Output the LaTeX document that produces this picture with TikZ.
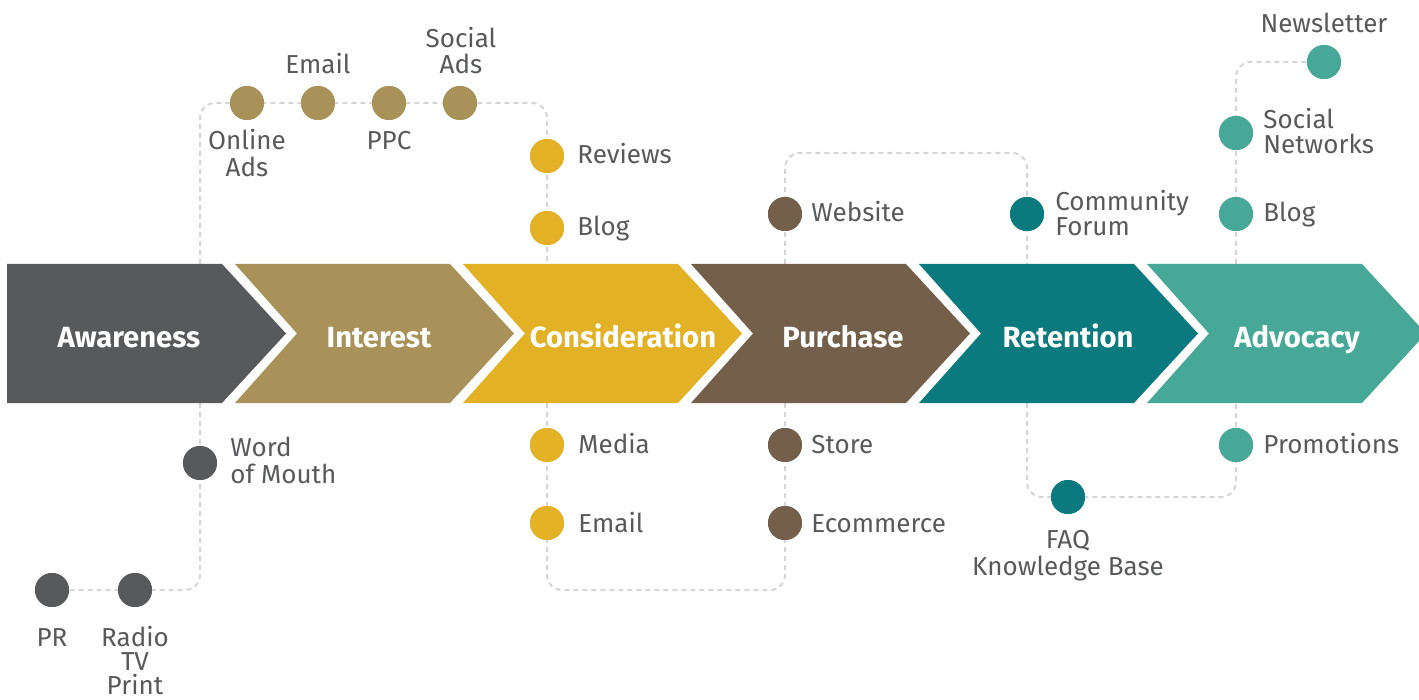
\documentclass[tikz,border=0pt]{standalone}
\usepackage{fontspec}
\setmainfont{Fira Sans}
\definecolor{awc}{HTML}{58595B}
\definecolor{inc}{HTML}{A89259}
\definecolor{coc}{HTML}{E3B125}
\definecolor{puc}{HTML}{745F4B}
\definecolor{rec}{HTML}{0B7A7E}
\definecolor{adc}{HTML}{47A898}
\definecolor{linegray}{HTML}{D4D5D6}
\definecolor{labelgray}{HTML}{58595B}
% one stage arrow, left edge at x = #1
\newcommand\chevpath[1]{(#1,264) -- ++(215,0) -- ++(64,69.5) -- ++(-64,69.5) -- ++(-215,0) -- ++(62,-69.5) -- cycle}
\begin{document}
\begin{tikzpicture}[x=0.5pt,y=-0.5pt,
  dot/.style={circle, minimum size=17pt, inner sep=0pt, fill=#1},
  link/.style={draw=linegray, line width=1pt, dash pattern=on 2.5pt off 2pt, rounded corners=7.5pt},
  lbl/.style={inner sep=0pt, text=labelgray, font=\fontsize{13}{15}\selectfont},
  stagetxt/.style={inner sep=0pt, text=white, font=\fontsize{14.6}{17}\selectfont\bfseries, anchor=base}]
\clip (0,0) rectangle (1419,700);

% edge points where the dashed routes meet the stage arrows
\coordinate (awTop) at (200,264);
\coordinate (awBot) at (200,403);
\coordinate (coTop) at (547,264);
\coordinate (coBot) at (547,403);
\coordinate (puTop) at (785,264);
\coordinate (puBot) at (785,403);
\coordinate (reTop) at (1027,264);
\coordinate (reBot) at (1027,403);
\coordinate (adTop) at (1236,264);
\coordinate (adBot) at (1236,403);
% route corners
\coordinate (k1) at (200,103);
\coordinate (k2) at (547,103);
\coordinate (k3) at (200,590);
\coordinate (k4) at (547,590);
\coordinate (k5) at (785,590);
\coordinate (k6) at (785,153);
\coordinate (k7) at (1027,153);
\coordinate (k8) at (1027,497);
\coordinate (k9) at (1236,497);
\coordinate (k10) at (1236,62);

% channel dot positions
\node[dot=awc] (wom)   at (200,463) {};
\node[dot=awc] (radio) at (135,590) {};
\node[dot=awc] (pr)    at (52,590) {};
\node[dot=inc] (onl)   at (247,103) {};
\node[dot=inc] (eml)   at (318,103) {};
\node[dot=inc] (ppc)   at (389,103) {};
\node[dot=inc] (soc)   at (460,103) {};
\node[dot=coc] (rev)   at (547,156) {};
\node[dot=coc] (blg)   at (547,228) {};
\node[dot=coc] (med)   at (547,445) {};
\node[dot=coc] (cem)   at (547,523) {};
\node[dot=puc] (web)   at (785,214) {};
\node[dot=puc] (sto)   at (785,445) {};
\node[dot=puc] (eco)   at (785,523) {};
\node[dot=rec] (cf)    at (1027,214) {};
\node[dot=rec] (faq)   at (1068,497) {};
\node[dot=adc] (ablg)  at (1236,214) {};
\node[dot=adc] (snet)  at (1236,133) {};
\node[dot=adc] (news)  at (1324,62) {};
\node[dot=adc] (promo) at (1236,445) {};

% dashed routes
\path[link] (awTop) -- (k1) -- (onl.center) -- (eml.center) -- (ppc.center) -- (soc.center) -- (k2) -- (rev.center) -- (blg.center) -- (coTop);
\path[link] (awBot) -- (wom.center) -- (k3) -- (radio.center) -- (pr.center);
\path[link] (coBot) -- (med.center) -- (cem.center) -- (k4) -- (k5) -- (eco.center) -- (sto.center) -- (puBot);
\path[link] (puTop) -- (web.center) -- (k6) -- (k7) -- (cf.center) -- (reTop);
\path[link] (reBot) -- (k8) -- (faq.center) -- (k9) -- (promo.center) -- (adBot);
\path[link] (adTop) -- (ablg.center) -- (snet.center) -- (k10) -- (news.center);

% dots painted again over the routes
\foreach \n/\c in {wom/awc,radio/awc,pr/awc,onl/inc,eml/inc,ppc/inc,soc/inc,rev/coc,blg/coc,med/coc,cem/coc,web/puc,sto/puc,eco/puc,cf/rec,faq/rec,ablg/adc,snet/adc,news/adc,promo/adc}
  \fill[\c] (\n.center) circle (8.5pt);

% stage arrows
\fill[awc] (7,264) -- (222,264) -- (286,333.5) -- (222,403) -- (7,403) -- cycle;
\fill[inc] \chevpath{235};
\fill[coc] \chevpath{463};
\fill[puc] \chevpath{691};
\fill[rec] \chevpath{919};
\fill[adc] \chevpath{1147};

\node[stagetxt] (sAw) at (129,347) {Awareness};
\node[stagetxt] (sIn) at (379,347) {Interest};
\node[stagetxt] (sCo) at (623,347) {Consideration};
\node[stagetxt] (sPu) at (843,347) {Purchase};
\node[stagetxt] (sRe) at (1068,347) {Retention};
\node[stagetxt] (sAd) at (1297,347) {Advocacy};

% channel labels
\node[lbl, anchor=base west] (tWom1) at (230,456) {Word};
\node[lbl, anchor=base west] (tWom2) at (230,483) {of Mouth};
\node[lbl, anchor=base] (tPr) at (52,646) {PR};
\node[lbl, anchor=base] (tRad1) at (135,646) {Radio};
\node[lbl, anchor=base] (tRad2) at (135,670) {TV};
\node[lbl, anchor=base] (tRad3) at (135,694) {Print};
\node[lbl, anchor=base] (tEml) at (318,74) {Email};
\node[lbl, anchor=base] (tSoc1) at (461,48) {Social};
\node[lbl, anchor=base] (tSoc2) at (461,74) {Ads};
\node[lbl, anchor=base] (tOnl1) at (247,150) {Online};
\node[lbl, anchor=base] (tOnl2) at (247,177) {Ads};
\node[lbl, anchor=base] (tPpc) at (389,150) {PPC};
\node[lbl, anchor=base west] (tRev) at (577,164) {Reviews};
\node[lbl, anchor=base west] (tBlg) at (577,236) {Blog};
\node[lbl, anchor=base west] (tMed) at (578,453) {Media};
\node[lbl, anchor=base west] (tCem) at (578,532) {Email};
\node[lbl, anchor=base west] (tWeb) at (811,222) {Website};
\node[lbl, anchor=base west] (tSto) at (811,453) {Store};
\node[lbl, anchor=base west] (tEco) at (811,532) {Ecommerce};
\node[lbl, anchor=base west] (tCf1) at (1055,211) {Community};
\node[lbl, anchor=base west] (tCf2) at (1055,236) {Forum};
\node[lbl, anchor=base] (tFaq1) at (1068,548) {FAQ};
\node[lbl, anchor=base] (tFaq2) at (1068,575) {Knowledge Base};
\node[lbl, anchor=base] (tNews) at (1324,33) {Newsletter};
\node[lbl, anchor=base west] (tSn1) at (1263,129) {Social};
\node[lbl, anchor=base west] (tSn2) at (1263,154) {Networks};
\node[lbl, anchor=base west] (tAbl) at (1263,222) {Blog};
\node[lbl, anchor=base west] (tPro) at (1263,453) {Promotions};
\end{tikzpicture}
\end{document}
